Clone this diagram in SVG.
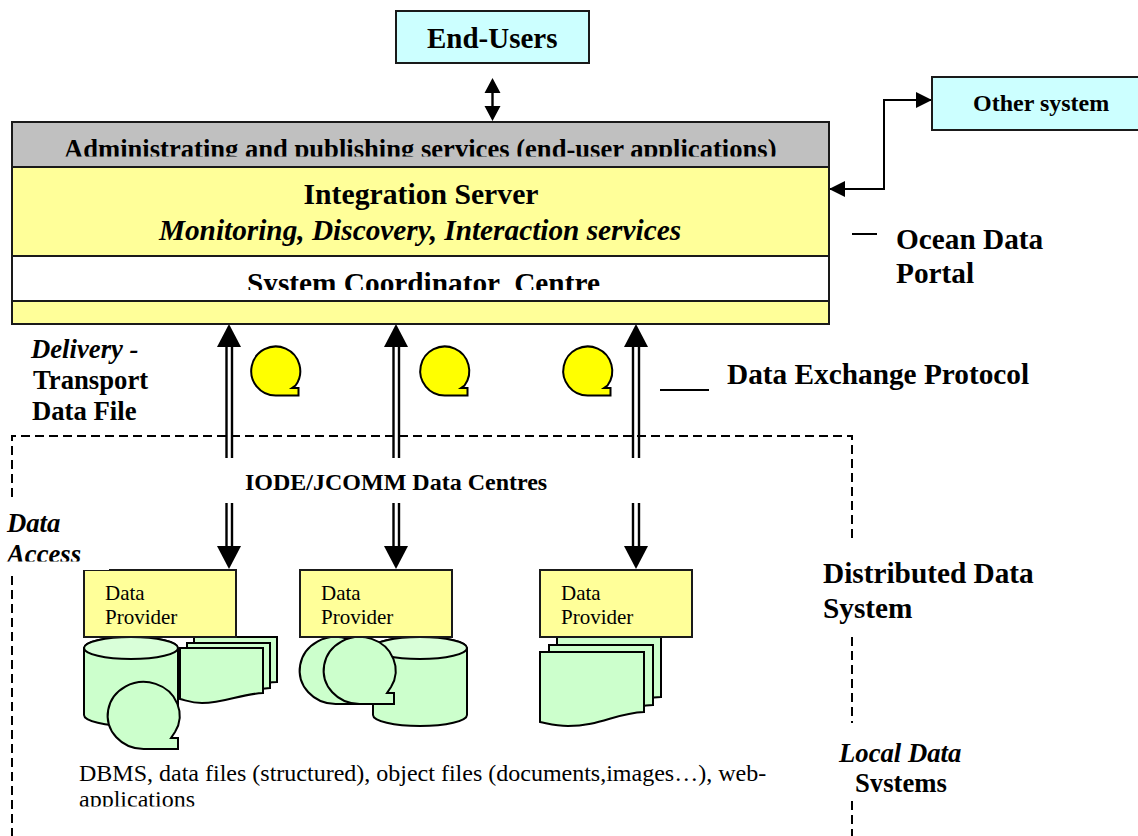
<svg xmlns="http://www.w3.org/2000/svg" xmlns:xlink="http://www.w3.org/1999/xlink" width="1138" height="836" viewBox="0 0 1138 836">
<style>
text{font-family:"Liberation Serif","Times New Roman",serif;fill:#000}
.b{font-weight:bold}
.bi{font-weight:bold;font-style:italic}
.s{stroke:#000;stroke-width:2;fill:none}
.box{stroke:#1a1a1a;stroke-width:2}
.y{fill:#ffff99}.c{fill:#ccffff}.g{fill:#c0c0c0}.w{fill:#fff}
.gr{fill:#ccffcc;stroke:#000;stroke-width:2}
.top{fill:#d9ffd9;stroke:#000;stroke-width:2}
.dash{stroke:#000;stroke-width:2;fill:none;stroke-dasharray:9 5}
.dbl{stroke:#000;stroke-width:2.4;fill:none}
.dp{font-size:21px}
.t1{font-size:26.700px}
.t2{font-size:29.300px}
</style>
<defs>
<marker id="ah" markerUnits="userSpaceOnUse" markerWidth="16" markerHeight="16" refX="16" refY="8" orient="auto-start-reverse"><path d="M0,0L16,8L0,16Z" fill="#000"/></marker>
<path id="up" d="M0,0L12,23L-12,23Z" fill="#000"/>
<path id="down" d="M0,0L12,-23L-12,-23Z" fill="#000"/>
<path id="tape" d="M0,24.500A24.500,24.500 0 1 1 19.500,14.500L16,17H22.500V24.500Z"/>
<path id="tapeL" d="M36,67A36,33.500 0 1 1 67,50L63,56L70,56L70,67Z"/>
<path id="cyl" d="M0,11A47,11 0 0 1 94,11V78A47,11 0 0 1 0,78Z"/>
<ellipse id="cylTop" cx="47" cy="11" rx="47" ry="11"/>
<path id="docS" d="M0,0H83V45C60,46 45,55 22,55C12,55 8,53 0,51Z"/>
<path id="docL" d="M0,0H104V60C76,61 60,74 28,74C16,74 10,72 0,70Z"/>
<clipPath id="c1"><rect x="14" y="124" width="813" height="32.500"/></clipPath>
<clipPath id="c2"><rect x="14" y="258" width="813" height="32"/></clipPath>
<clipPath id="c3"><rect x="0" y="500" width="84" height="61.500"/></clipPath>
<clipPath id="c4"><rect x="70" y="760" width="720" height="46.500"/></clipPath>
<clipPath id="c5"><rect x="830" y="770" width="130" height="22"/></clipPath>
</defs>

<g id="distributed-boundary">
<path class="dash" d="M12,497V436H852V540"/>
<path class="dash" d="M12,576V836"/>
<path class="dash" d="M852,637V723"/>
<path class="dash" d="M852,801V836"/>
</g>

<g id="connectors">
<path class="dbl" d="M492.500,90V110"/>
<path d="M492.500,78L500.500,93H484.500ZM492.500,121L500.500,106H484.500Z" fill="#000"/>
<path class="s" d="M829,189H884V100H932" marker-start="url(#ah)" marker-end="url(#ah)"/>
<path class="dbl" d="M226.500,345V458M232,345V458M226.500,503V548M232,503V548"/>
<use xlink:href="#up" x="229" y="324"/><use xlink:href="#down" x="229" y="569"/>
<path class="dbl" d="M393.500,345V458M399,345V458M393.500,503V548M399,503V548"/>
<use xlink:href="#up" x="396" y="324"/><use xlink:href="#down" x="396" y="569"/>
<path class="dbl" d="M633,345V458M639,345V458M633,503V548M639,503V548"/>
<use xlink:href="#up" x="636" y="324"/><use xlink:href="#down" x="636" y="569"/>
<path class="s" d="M852,234H877"/>
<path class="s" d="M660,390H709"/>
</g>

<g id="end-users">
<rect class="box c" x="396" y="11" width="193" height="52"/>
<text class="b" x="427" y="48" font-size="29">End-Users</text>
</g>
<g id="other-system">
<rect class="box c" x="932" y="77" width="210" height="53"/>
<text class="b" x="973" y="111" font-size="24">Other system</text>
</g>

<g id="ocean-data-portal">
<rect class="box y" x="12" y="122" width="817" height="202"/>
<rect class="box g" x="12" y="122" width="817" height="45"/>
<text class="b" x="64" y="158" font-size="26.600" clip-path="url(#c1)">Administrating and publishing services (end-user applications)</text>
<rect class="box y" x="12" y="167" width="817" height="89"/>
<text class="b" x="421" y="204" font-size="29.700" text-anchor="middle">Integration Server</text>
<text class="bi" x="420" y="239.500" font-size="29.300" text-anchor="middle">Monitoring, Discovery, Interaction services</text>
<rect class="box w" x="12" y="256" width="817" height="45"/>
<text class="b t2" x="247" y="293" xml:space="preserve" clip-path="url(#c2)">System Coordinator  Centre</text>
</g>

<g id="bubble-1"><use xlink:href="#tape" x="276" y="371" fill="#ffff00" stroke="#000" stroke-width="2"/></g>
<g id="bubble-2"><use xlink:href="#tape" x="445" y="371" fill="#ffff00" stroke="#000" stroke-width="2"/></g>
<g id="bubble-3"><use xlink:href="#tape" x="588" y="371" fill="#ffff00" stroke="#000" stroke-width="2"/></g>

<g id="labels">
<text class="bi t1" x="31" y="358">Delivery -</text>
<text class="b t1" x="33" y="389">Transport</text>
<text class="b t1" x="32" y="420">Data File</text>
<text class="bi t1" x="7" y="532">Data</text>
<text class="bi t1" x="7" y="563" clip-path="url(#c3)">Access</text>
<text class="b" x="245" y="490" font-size="24">IODE/JCOMM Data Centres</text>
<text class="b t2" x="896" y="249">Ocean Data</text>
<text class="b t2" x="896" y="283">Portal</text>
<text class="b t2" x="727" y="384">Data Exchange Protocol</text>
<text class="b t2" x="823" y="583">Distributed Data</text>
<text class="b t2" x="823" y="618">System</text>
<text class="bi t1" x="839" y="762">Local Data</text>
<text class="b t1" x="855" y="792" clip-path="url(#c5)">Systems</text>
<text x="79" y="780.500" font-size="24">DBMS, data files (structured), object files (documents,images…), web-</text>
<text x="79" y="807" font-size="24" clip-path="url(#c4)">applications</text>
</g>

<g id="store-1">
<use xlink:href="#docS" class="gr" x="194" y="637"/>
<use xlink:href="#docS" class="gr" x="187" y="643"/>
<use xlink:href="#docS" class="gr" x="180" y="648"/>
<use xlink:href="#cyl" class="gr" x="84" y="637"/>
<use xlink:href="#cylTop" class="top" x="84" y="637"/>
<use xlink:href="#tapeL" class="gr" x="108" y="682"/>
</g>
<g id="store-2">
<use xlink:href="#cyl" class="gr" x="373" y="637"/>
<use xlink:href="#cylTop" class="top" x="373" y="637"/>
<use xlink:href="#tapeL" class="gr" x="300" y="637"/>
<use xlink:href="#tapeL" class="gr" x="324" y="637"/>
</g>
<g id="store-3">
<use xlink:href="#docL" class="gr" x="557" y="637"/>
<use xlink:href="#docL" class="gr" x="549" y="645"/>
<use xlink:href="#docL" class="gr" x="540" y="652"/>
</g>

<g id="provider-1">
<rect class="box y" x="84" y="570" width="152" height="67"/>
<rect x="83" y="568" width="26" height="2" fill="#fff"/>
<text class="dp" x="105" y="600">Data</text><text class="dp" x="105" y="623.500">Provider</text>
</g>
<g id="provider-2">
<rect class="box y" x="300" y="570" width="152" height="67"/>
<text class="dp" x="321" y="600">Data</text><text class="dp" x="321" y="623.500">Provider</text>
</g>
<g id="provider-3">
<rect class="box y" x="540" y="570" width="152" height="67"/>
<text class="dp" x="561" y="600">Data</text><text class="dp" x="561" y="623.500">Provider</text>
</g>
</svg>
